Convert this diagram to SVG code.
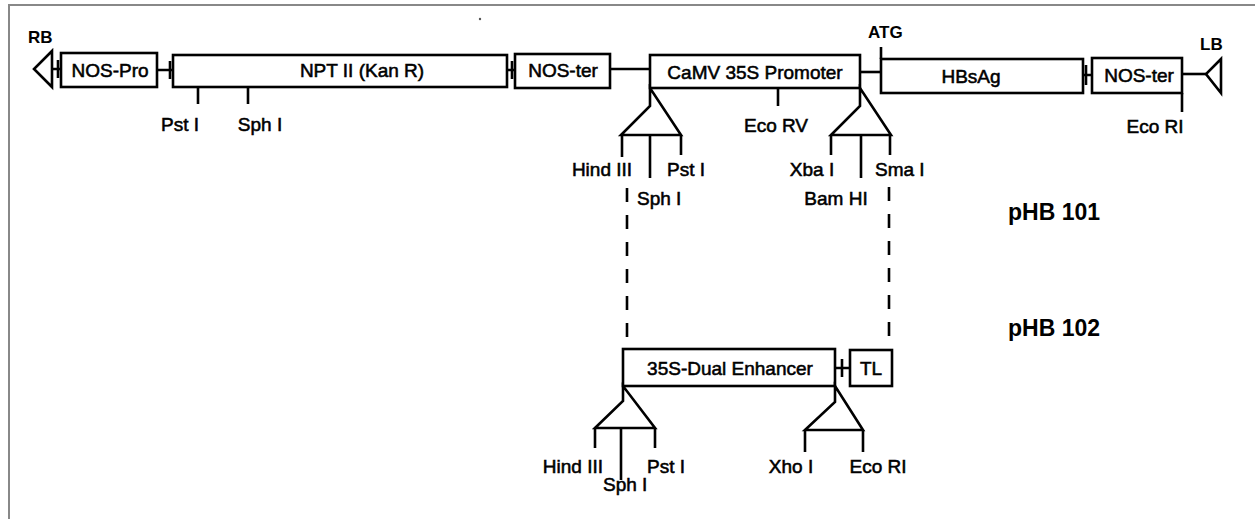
<svg xmlns="http://www.w3.org/2000/svg" width="1255" height="519" viewBox="0 0 1255 519">
<style>
.bx{fill:#fff;stroke:#000;stroke-width:2.6}
.ln{fill:none;stroke:#000;stroke-width:2.6}
.dash{stroke-dasharray:14 13}
.t{font-family:"Liberation Sans",Arial,sans-serif;font-size:19px;fill:#000;stroke:#000;stroke-width:0.55}
.m{text-anchor:middle}
.e{text-anchor:end}
.b{font-family:"Liberation Sans",Arial,sans-serif;font-weight:bold;fill:#000}
</style>
<rect width="1255" height="519" fill="#fff"/>
<path d="M9,519 V5 H1255" fill="none" stroke="#888" stroke-width="2"/>
<circle cx="480" cy="19" r="1.2" fill="#555"/>

<g id="connectors">
  <path class="ln" d="M52,69 H61 M58,60 V78"/>
  <path class="ln" d="M157,70 H173 M170,61 V79"/>
  <path class="ln" d="M507,70 H515 M512,61 V79"/>
  <path class="ln" d="M610,69 H650"/>
  <path class="ln" d="M860,72 H881"/>
  <path class="ln" d="M1083,75 H1092 M1086,65 V85"/>
  <path class="ln" d="M1182,74 H1206"/>
  <path class="ln" d="M835,368 H850 M842,359 V377"/>
  <path class="ln dash" d="M627,188 V344"/>
  <path class="ln dash" d="M889,187 V348"/>
</g>

<g id="RB">
  <text class="b" x="28" y="43" font-size="17">RB</text>
  <path class="ln" d="M52,51 L34,69 L52,87 Z"/>
</g>
<g id="LB">
  <text class="b" x="1200" y="50" font-size="17">LB</text>
  <path class="ln" d="M1221,59 L1206,74 L1221,93 Z"/>
</g>

<g id="nos-pro">
  <rect class="bx" x="61" y="53" width="96" height="34"/>
  <text class="t m" x="110" y="77">NOS-Pro</text>
</g>
<g id="npt2">
  <rect class="bx" x="173" y="55" width="334" height="32"/>
  <text class="t m" x="362" y="77">NPT II (Kan R)</text>
  <path class="ln" d="M198,87 V104 M248,87 V104"/>
  <text class="t m" x="180" y="131">Pst I</text>
  <text class="t m" x="260" y="131">Sph I</text>
</g>
<g id="nos-ter1">
  <rect class="bx" x="515" y="54" width="95" height="34"/>
  <text class="t m" x="563" y="77">NOS-ter</text>
</g>
<g id="camv">
  <rect class="bx" x="650" y="55" width="210" height="33"/>
  <text class="t m" x="755" y="79">CaMV 35S Promoter</text>
  <path class="ln" d="M778,88 V106"/>
  <text class="t m" x="776" y="132">Eco RV</text>
  <path class="ln" d="M650,88 V106 L621,135 H681 Z M622,135 V157 M650,135 V178 M681,135 V155"/>
  <text class="t m" x="602" y="176">Hind III</text>
  <text class="t" x="667" y="176">Pst I</text>
  <text class="t" x="637" y="205">Sph I</text>
  <path class="ln" d="M860,88 V106 L831,135 H891 Z M831,135 V155 M861,135 V178 M890,135 V155"/>
  <text class="t m" x="812" y="176">Xba I</text>
  <text class="t m" x="836" y="205">Bam HI</text>
  <text class="t" x="875" y="176">Sma I</text>
</g>
<g id="hbsag">
  <rect class="bx" x="881" y="59" width="202" height="34"/>
  <path class="ln" d="M881,59 V47"/>
  <text class="b" x="868" y="38" font-size="17">ATG</text>
  <text class="t m" x="971" y="83">HBsAg</text>
</g>
<g id="nos-ter2">
  <rect class="bx" x="1092" y="58" width="90" height="35"/>
  <text class="t m" x="1139" y="82">NOS-ter</text>
  <path class="ln" d="M1182,93 V112"/>
  <text class="t m" x="1155" y="133">Eco RI</text>
</g>
<g id="pHB101">
  <text class="b" x="1008" y="220" font-size="23">pHB 101</text>
</g>

<g id="enhancer">
  <rect class="bx" x="623" y="349" width="212" height="37"/>
  <text class="t m" x="730" y="375">35S-Dual Enhancer</text>
  <path class="ln" d="M623,386 V401 L595,428 H655 Z M595,428 V448 M621,428 V480 M655,428 V448"/>
  <text class="t e" x="603" y="473">Hind III</text>
  <text class="t" x="647" y="473">Pst I</text>
  <text class="t" x="603" y="491">Sph I</text>
  <path class="ln" d="M835,386 V402 L805,430 H863 Z M805,430 V452 M863,430 V452"/>
  <text class="t m" x="791" y="473">Xho I</text>
  <text class="t m" x="878" y="473">Eco RI</text>
</g>
<g id="tl">
  <rect class="bx" x="850" y="350" width="42" height="36"/>
  <text class="t m" x="871" y="375">TL</text>
</g>
<g id="pHB102">
  <text class="b" x="1008" y="336" font-size="23">pHB 102</text>
</g>
</svg>
